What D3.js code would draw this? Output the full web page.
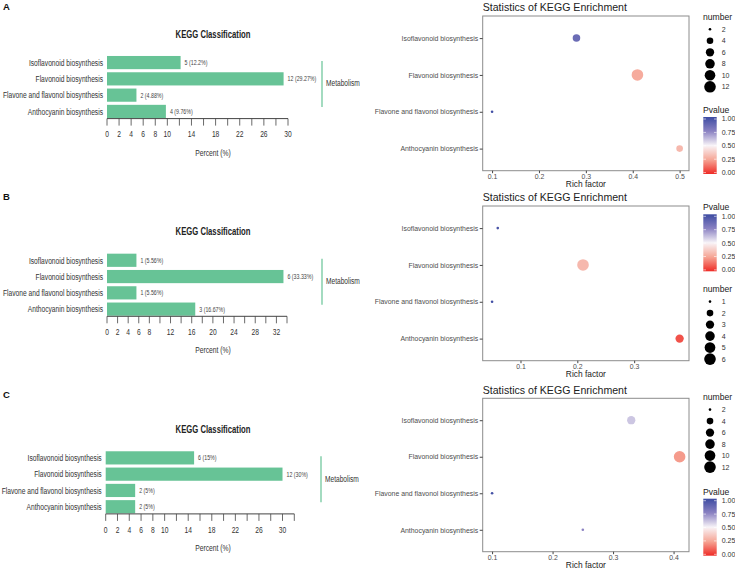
<!DOCTYPE html>
<html>
<head>
<meta charset="utf-8">
<script src="https://cdn.jsdelivr.net/npm/d3@7"></script>
<style>
  body { margin: 0; background: #fff; }
  svg { display: block; }
  .narrow { font-family: "Liberation Sans", Arial, sans-serif; }
  .sans { font-family: "Liberation Sans", Arial, sans-serif; }
</style>
</head>
<body>
<div id="chart"></div>
<script>
// categories shared by every panel
const categories = [
  "Isoflavonoid biosynthesis",
  "Flavonoid biosynthesis",
  "Flavone and flavonol biosynthesis",
  "Anthocyanin biosynthesis",
];
const groupLabel = "Metabolism";

// panel A
const countsA = [5, 12, 2, 4];
const percentsA = [12.2, 29.27, 4.88, 9.76];
const percentMaxA = 30;
const percentTicksA = [0, 2, 4, 6, 8, 10, 14, 18, 22, 26, 30];
const richA = [0.28, 0.41, 0.1, 0.5];
const pvalueA = [0.85, 0.27, 0.98, 0.31];
const richTicksA = [0.1, 0.2, 0.3, 0.4, 0.5];
const numberBreaksA = [2, 4, 6, 8, 10, 12];

// panel B
const countsB = [1, 6, 1, 3];
const percentsB = [5.56, 33.33, 5.56, 16.67];
const percentMaxB = 34;
const percentTicksB = [0, 2, 4, 6, 8, 12, 16, 20, 24, 28, 32];
const richB = [0.06, 0.21, 0.05, 0.38];
const pvalueB = [0.96, 0.31, 0.98, 0.08];
const richTicksB = [0.1, 0.2, 0.3];
const numberBreaksB = [1, 2, 3, 4, 5, 6];

// panel C
const countsC = [6, 12, 2, 2];
const percentsC = [15, 30, 5, 5];
const percentMaxC = 32;
const percentTicksC = [0, 2, 4, 6, 8, 10, 14, 18, 22, 26, 30];
const richC = [0.33, 0.41, 0.1, 0.25];
const pvalueC = [0.6, 0.23, 0.97, 0.75];
const richTicksC = [0.1, 0.2, 0.3, 0.4];
const numberBreaksC = [2, 4, 6, 8, 10, 12];

const pvalueTicks = [1, 0.75, 0.5, 0.25, 0];

const panels = [
  { letter: "A", letterY: 10, titleY: 34, x0: 107, x1: 288, gx: 322,
    counts: countsA, percents: percentsA, pmax: percentMaxA, pticks: percentTicksA,
    rich: richA, pvalue: pvalueA, rticks: richTicksA, nbreaks: numberBreaksA,
    top: 16, bottom: 170.7, sizeLegY: 17, colorLegY: 110 },
  { letter: "B", letterY: 200, titleY: 231.7, x0: 107, x1: 287, gx: 322,
    counts: countsB, percents: percentsB, pmax: percentMaxB, pticks: percentTicksB,
    rich: richB, pvalue: pvalueB, rticks: richTicksB, nbreaks: numberBreaksB,
    top: 206, bottom: 360.7, sizeLegY: 289.3, colorLegY: 207.3 },
  { letter: "C", letterY: 398, titleY: 429.3, x0: 105.7, x1: 294.3, gx: 321,
    counts: countsC, percents: percentsC, pmax: percentMaxC, pticks: percentTicksC,
    rich: richC, pvalue: pvalueC, rticks: richTicksC, nbreaks: numberBreaksC,
    top: 398.3, bottom: 551.7, sizeLegY: 397.3, colorLegY: 491.7 },
];

const width = 735, height = 569;
const barColor = "#67c396";
const panelLeft = 482.7, panelRight = 689;
const squeeze = 0.72; // condensed look of the left-hand charts

const svg = d3.select("#chart").append("svg")
  .attr("width", width)
  .attr("height", height);

// Pvalue colour: red - white - blue
const pColor = d3.scaleLinear()
  .domain([0, 0.25, 0.5, 0.75, 1])
  .range(["#ee2b26", "#f6a595", "#f8f4f8", "#8b82c2", "#3c4ba2"]);

const defs = svg.append("defs");
const grad = defs.append("linearGradient")
  .attr("id", "pgrad")
  .attr("x1", 0).attr("y1", 1).attr("x2", 0).attr("y2", 0);
d3.range(0, 1.01, 0.05).forEach((t) => {
  grad.append("stop").attr("offset", t).attr("stop-color", pColor(t));
});

// place a condensed text at (x, y)
function narrow(sel, fx, fy, k = squeeze) {
  sel.attr("class", "narrow")
    .attr("transform", (d, i) => `translate(${fx(d, i)},${fy(d, i)}) scale(${k},1)`);
  return sel;
}

panels.forEach((p) => {
  const g = svg.append("g");

  // panel letter
  g.append("text")
    .attr("class", "sans")
    .attr("x", 3).attr("y", p.letterY)
    .attr("font-size", 9.5).attr("font-weight", "bold")
    .attr("fill", "#111")
    .text(p.letter);

  // ---------- left: KEGG Classification bars ----------
  const T = p.titleY;
  const x = d3.scaleLinear().domain([0, p.pmax]).range([p.x0, p.x1]);
  const y = d3.scaleBand().domain(categories)
    .range([T + 21, T + 85])
    .paddingInner(0.19)
    .paddingOuter(0.06);
  const axisY = T + 84.6;

  g.append("text")
    .call(narrow, () => 213, () => T)
    .attr("dy", "0.35em")
    .attr("text-anchor", "middle")
    .attr("font-size", 10.7).attr("font-weight", "bold")
    .attr("fill", "#222")
    .text("KEGG Classification");

  const rows = categories.map((c, i) => ({ cat: c, n: p.counts[i], pct: p.percents[i] }));

  g.selectAll(".bar").data(rows).enter().append("rect")
    .attr("class", "bar")
    .attr("x", x(0))
    .attr("y", (d) => y(d.cat))
    .attr("width", (d) => x(d.pct) - x(0))
    .attr("height", y.bandwidth())
    .attr("fill", barColor);

  g.selectAll(".vlab").data(rows).enter().append("text")
    .call(narrow, (d) => x(d.pct) + 4, (d) => y(d.cat) + y.bandwidth() / 2)
    .attr("dy", "0.35em")
    .attr("font-size", 7.3)
    .attr("fill", "#444")
    .text((d) => `${d.n} (${d.pct}%)`);

  g.selectAll(".clab").data(rows).enter().append("text")
    .call(narrow, () => x(0) - 4, (d) => y(d.cat) + y.bandwidth() / 2, 0.71)
    .attr("dy", "0.35em")
    .attr("text-anchor", "end")
    .attr("font-size", 9.4)
    .attr("fill", "#333")
    .text((d) => d.cat);

  // percent axis: tick every 2, labels thinned
  const ax = g.append("g").attr("transform", `translate(0,${axisY})`);
  ax.append("line")
    .attr("x1", x(0)).attr("x2", x(p.pmax))
    .attr("stroke", "#444").attr("stroke-width", 1);
  ax.selectAll(".tk").data(d3.range(0, p.pmax + 1, 2)).enter().append("line")
    .attr("x1", (d) => x(d)).attr("x2", (d) => x(d))
    .attr("y1", 0).attr("y2", 7)
    .attr("stroke", "#444").attr("stroke-width", 0.8);
  ax.selectAll(".tl").data(p.pticks).enter().append("text")
    .call(narrow, (d) => x(d), () => 15.5)
    .attr("dy", "0.35em")
    .attr("text-anchor", "middle")
    .attr("font-size", 9.3)
    .attr("fill", "#333")
    .text((d) => d);

  g.append("text")
    .call(narrow, () => 213, () => T + 118.5)
    .attr("dy", "0.35em")
    .attr("text-anchor", "middle")
    .attr("font-size", 9.4)
    .attr("fill", "#333")
    .text("Percent (%)");

  // group bracket
  g.append("line")
    .attr("x1", p.gx).attr("x2", p.gx)
    .attr("y1", T + 27).attr("y2", T + 73)
    .attr("stroke", barColor).attr("stroke-width", 1.2);
  g.append("text")
    .call(narrow, () => p.gx + 4, () => T + 49)
    .attr("dy", "0.35em")
    .attr("font-size", 9.2)
    .attr("fill", "#333")
    .text(groupLabel);

  // ---------- right: Statistics of KEGG Enrichment ----------
  const ext = d3.extent(p.rich);
  const pad = (ext[1] - ext[0]) * 0.05;
  const rx = d3.scaleLinear().domain([ext[0] - pad, ext[1] + pad]).range([panelLeft, panelRight]);
  const ry = d3.scalePoint().domain(categories).range([p.top, p.bottom]).padding(0.6);

  const nExt = d3.extent(p.nbreaks);
  const nNorm = d3.scaleLinear().domain(nExt).range([0, 1]);
  const nArea = d3.scaleSqrt().domain([0, 1]).range([1.3, 5.8]);
  const radius = (n) => nArea(nNorm(n));

  g.append("text")
    .attr("class", "sans")
    .attr("x", panelLeft).attr("y", p.top - 8.5).attr("dy", "0.35em")
    .attr("font-size", 10.6)
    .attr("fill", "#222")
    .text("Statistics of KEGG Enrichment");

  g.append("rect")
    .attr("x", panelLeft).attr("y", p.top)
    .attr("width", panelRight - panelLeft).attr("height", p.bottom - p.top)
    .attr("fill", "#fff")
    .attr("stroke", "#8c8c8c").attr("stroke-width", 1);

  const yAxis = d3.axisLeft(ry).tickSize(3).tickPadding(1.5);
  const yg = g.append("g").attr("transform", `translate(${panelLeft},0)`).call(yAxis);
  yg.select(".domain").remove();
  yg.selectAll("line").attr("stroke", "#444");
  yg.selectAll("text").attr("class", "sans").attr("font-size", 6.9).attr("fill", "#4d4d4d");

  const xAxis = d3.axisBottom(rx).tickValues(p.rticks).tickSize(2.5).tickPadding(0.8)
    .tickFormat(d3.format(".1f"));
  const xg = g.append("g").attr("transform", `translate(0,${p.bottom})`).call(xAxis);
  xg.select(".domain").remove();
  xg.selectAll("line").attr("stroke", "#444");
  xg.selectAll("text").attr("class", "sans").attr("font-size", 6.9).attr("fill", "#4d4d4d");

  g.append("text")
    .attr("class", "sans")
    .attr("x", (panelLeft + panelRight) / 2).attr("y", p.bottom + 13.2).attr("dy", "0.35em")
    .attr("text-anchor", "middle")
    .attr("font-size", 8.4)
    .attr("fill", "#222")
    .text("Rich factor");

  const dots = categories.map((c, i) => ({ cat: c, rich: p.rich[i], n: p.counts[i], pv: p.pvalue[i] }));
  g.selectAll(".dot").data(dots).enter().append("circle")
    .attr("cx", (d) => rx(d.rich))
    .attr("cy", (d) => ry(d.cat))
    .attr("r", (d) => radius(d.n))
    .attr("fill", (d) => pColor(d.pv));

  // size legend
  const lx = 703;
  g.append("text")
    .attr("class", "sans")
    .attr("x", lx).attr("y", p.sizeLegY).attr("dy", "0.35em")
    .attr("font-size", 8.6).attr("fill", "#222")
    .text("number");
  const sItems = g.selectAll(".sl").data(p.nbreaks).enter().append("g")
    .attr("transform", (d, i) => `translate(0,${p.sizeLegY + 12.3 + i * 11.5})`);
  sItems.append("circle")
    .attr("cx", 710).attr("cy", 0)
    .attr("r", (d) => radius(d))
    .attr("fill", "#000");
  sItems.append("text")
    .attr("class", "sans")
    .attr("x", 721.7).attr("y", 0).attr("dy", "0.35em")
    .attr("font-size", 7).attr("fill", "#333")
    .text((d) => d);

  // colour legend
  g.append("text")
    .attr("class", "sans")
    .attr("x", lx).attr("y", p.colorLegY).attr("dy", "0.35em")
    .attr("font-size", 8.6).attr("fill", "#222")
    .text("Pvalue");
  const barTop = p.colorLegY + 7, barBottom = p.colorLegY + 64;
  g.append("rect")
    .attr("x", 703.3).attr("y", barTop)
    .attr("width", 13.4).attr("height", barBottom - barTop)
    .attr("fill", "url(#pgrad)");
  const cy = d3.scaleLinear().domain([0, 1]).range([barBottom - 1.4, barTop + 2]);
  g.selectAll(".ct").data(pvalueTicks).enter().append("g")
    .each(function (d) {
      const s = d3.select(this);
      s.append("line").attr("x1", 703.3).attr("x2", 706)
        .attr("y1", cy(d)).attr("y2", cy(d)).attr("stroke", "#fff").attr("stroke-width", 0.6);
      s.append("line").attr("x1", 714).attr("x2", 716.7)
        .attr("y1", cy(d)).attr("y2", cy(d)).attr("stroke", "#fff").attr("stroke-width", 0.6);
      s.append("text")
        .attr("class", "sans")
        .attr("x", 721.7).attr("y", cy(d)).attr("dy", "0.35em")
        .attr("font-size", 7).attr("fill", "#333")
        .text(d3.format(".2f")(d));
    });
});
</script>
</body>
</html>
